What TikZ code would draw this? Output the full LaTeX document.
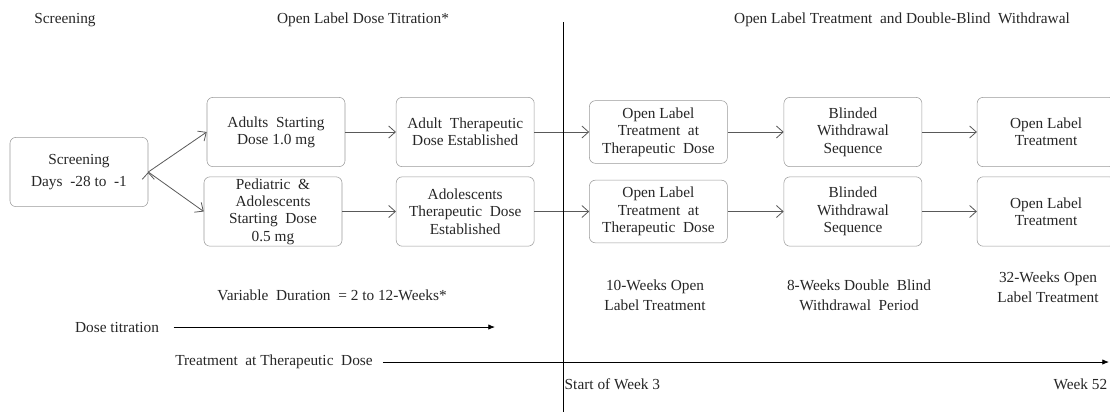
\documentclass[tikz,border=0pt]{standalone}
\usepackage{fontspec}
\setmainfont{Liberation Serif}
\usetikzlibrary{positioning, arrows.meta}

\begin{document}
\begin{tikzpicture}[x=0.75pt, y=-0.75pt,
        every node/.style={font=\fontsize{11.5}{13}\selectfont, text=black!85},
        box/.style={draw=black!40, rounded corners=4.5pt, minimum width=103.5pt,
            minimum height=52pt, align=center, inner sep=1pt},
        shortbox/.style={box, minimum height=47pt},
        flow/.style={draw=black!65, line width=0.6pt, -{Straight Barb[length=5pt, width=9pt]}},
        timeline/.style={draw=black, line width=0.6pt, -{Latex[length=5pt, width=4pt]}},
        caption/.style={align=center, font=\fontsize{11.5}{15}\selectfont}]
        \clip (0,0) rectangle (1110,412);

        % phase headings
        \node (hscr) at (65,20) {Screening};
        \node (htit) at (363,20) {Open Label Dose Titration*};
        \node (htrt) at (902,20) {Open Label Treatment \ and Double-Blind \ Withdrawal};

        % study boxes
        \node[box, font=\fontsize{11.5}{17}\selectfont] (scr) at (79,172) {Screening\\Days \ -28 to \ -1};
        \node[box]                    (adS)  at (276,132)   {Adults \ Starting\\Dose 1.0 mg};
        \node[box]                    (pedS) at (273,211.5) {Pediatric \ \&\\Adolescents\\Starting \ Dose\\0.5 mg};
        \node[box, right=38pt of adS] (adT)                 {Adult \ Therapeutic\\Dose Established};
        \node[box]                    (adoT) at (adT |- pedS) {Adolescents\\Therapeutic \ Dose\\Established};
        \node[shortbox, right=41pt of adT] (olT1)           {Open Label\\Treatment \ at\\Therapeutic \ Dose};
        \node[shortbox]               (olT2) at (olT1 |- pedS) {Open Label\\Treatment \ at\\Therapeutic \ Dose};
        \node[box, right=42pt of olT1] (bw1)                {Blinded\\Withdrawal\\Sequence};
        \node[box]                    (bw2)  at (bw1 |- pedS) {Blinded\\Withdrawal\\Sequence};
        \node[box, right=41pt of bw1] (ol1)                 {Open Label\\Treatment};
        \node[box]                    (ol2)  at (ol1 |- pedS) {Open Label\\Treatment};

        \path[flow]
            (scr.east)  edge (adS.west)
            (scr.east)  edge (pedS.west)
            (adS)  edge (adT)
            (pedS) edge (adoT)
            (adT)  edge (olT1)
            (adoT) edge (olT2)
            (olT1) edge (bw1)
            (olT2) edge (bw2)
            (bw1)  edge (ol1)
            (bw2)  edge (ol2)
            ;

        % period captions
        \node[caption] (var)  at (332,295) {Variable \ Duration \ = 2 to 12-Weeks*};
        \node[caption] (wk10) at (655,295) {10-Weeks Open\\Label Treatment};
        \node[caption] (wk8)  at (859,295) {8-Weeks Double \ Blind\\Withdrawal \ Period};
        \node[caption] (wk32) at (1048,287) {32-Weeks Open\\Label Treatment};

        % time lines
        \node (dose) at (117,327) {Dose titration};
        \coordinate (doseEnd) at (495,327);
        \draw[timeline] ([xshift=7.5pt]dose.east) -- (doseEnd);
        \node (treat) at (274,362) {Treatment \ at Therapeutic \ Dose};
        \coordinate (wkEnd) at (1109,362);
        \draw[timeline] ([xshift=4pt]treat.east) -- (wkEnd);
        \node[anchor=west] (start) at (560,384) {Start of Week 3};
        \node[anchor=east] (wk52)  at (1112,384) {Week 52};

        \coordinate (divTop) at (563,22);
        \coordinate (divBot) at (563,412);
        \draw[line width=0.5pt] (divTop) -- (divBot);
\end{tikzpicture}
\end{document}
